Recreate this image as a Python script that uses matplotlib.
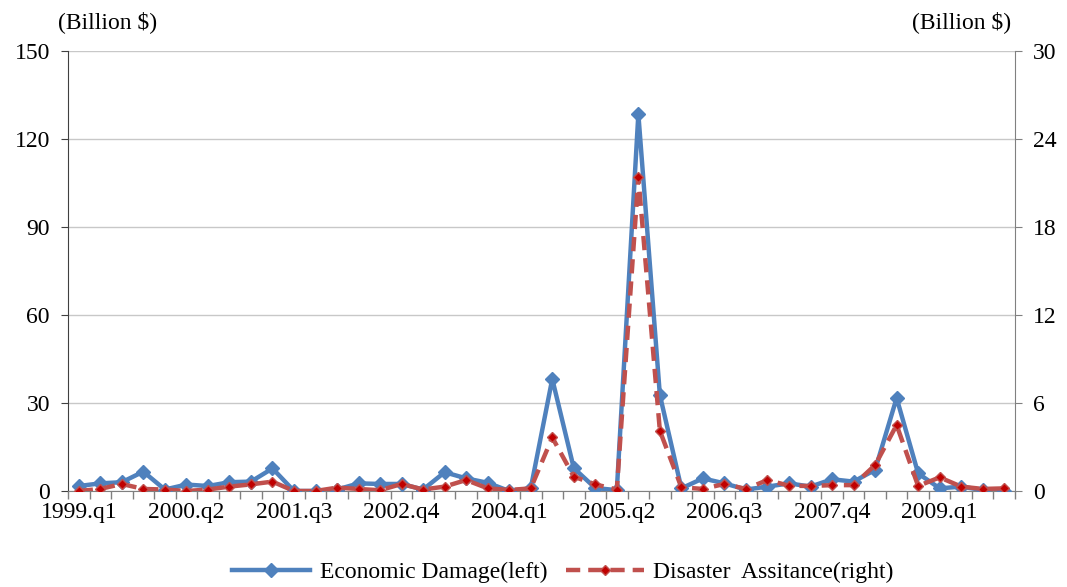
import matplotlib.pyplot as plt
import numpy as np

plt.rcParams['font.family'] = ['Liberation Serif', 'DejaVu Serif']

# quarters 1999.q1 .. 2009.q4
quarters = [f"{y}.q{q}" for y in range(1999, 2010) for q in range(1, 5)]
tick_labels = ["1999.q1", "2000.q2", "2001.q3", "2002.q4", "2004.q1",
               "2005.q2", "2006.q3", "2007.q4", "2009.q1"]

# Economic damage, billion $ (left axis)
damage = [1.7, 2.6, 3.0, 6.6, 0.5, 2.2, 1.7, 3.0, 3.2, 7.7,
          0.0, 0.0, 0.5, 2.6, 2.4, 2.4, 0.5, 6.4, 4.3, 2.8,
          0.0, 0.9, 38.2, 7.8, 1.0, 0.3, 128.5, 32.7, 0.9, 4.3,
          2.6, 0.5, 1.5, 2.6, 1.5, 4.0, 3.2, 7.2, 31.7, 6.0,
          0.9, 1.5, 0.3, 0.0]

# Disaster assistance, billion $ (right axis)
assist = [0.0, 0.14, 0.48, 0.14, 0.1, 0.0, 0.1, 0.3, 0.45, 0.64,
          0.0, 0.0, 0.23, 0.14, 0.05, 0.48, 0.1, 0.3, 0.75, 0.18,
          0.07, 0.18, 3.65, 0.98, 0.45, 0.1, 21.4, 4.1, 0.25, 0.14,
          0.48, 0.14, 0.75, 0.36, 0.34, 0.4, 0.4, 1.77, 4.5, 0.34,
          0.93, 0.3, 0.14, 0.18]

blue = '#4F81BD'
red = '#C0504D'
fs = 17

fig = plt.figure(figsize=(10.67, 5.87), dpi=100)
ax = fig.add_axes([68 / 1067, 1 - 491 / 587, (1015 - 68) / 1067, (491 - 51) / 587])
ax2 = ax.twinx()

x = np.arange(len(quarters))
l1, = ax.plot(x, damage, color=blue, lw=3.2, marker='D', ms=7,
              mec=blue, mfc=blue, zorder=3, label='Economic Damage(left)')
l2, = ax2.plot(x, assist, color=red, lw=3.2, ls=(0, (3.2, 1.8)), marker='D', ms=5.5,
               mfc='#C00000', mec=red, zorder=4, label='Disaster  Assitance(right)')

ax.set_xlim(-0.5, len(quarters) - 0.5)
ax.set_ylim(0, 150)
ax.set_yticks(np.arange(0, 151, 30))
ax2.set_ylim(0, 30)
ax2.set_yticks(np.arange(0, 31, 6))

ax.set_xticks([quarters.index(t) for t in tick_labels])
ax.set_xticklabels(tick_labels)
ax.set_xticks(np.arange(-0.5, len(quarters), 1), minor=True)
ax.tick_params(axis='x', which='major', length=0, pad=8, labelsize=fs)
ax.tick_params(axis='x', which='minor', length=6, width=1, color='#808080', direction='out')
ax.tick_params(axis='y', length=5, color='#404040', labelsize=fs, pad=8)
ax2.tick_params(axis='y', length=5, color='#808080', labelsize=fs, pad=8)

ax.grid(axis='y', color='#C8C8C8', lw=1)
ax.set_axisbelow(True)
for a in (ax, ax2):
    a.spines['top'].set_visible(False)
ax2.spines['left'].set_visible(False)
ax2.spines['bottom'].set_visible(False)
ax.spines['right'].set_visible(False)
ax.spines['left'].set_color('#404040')
ax.spines['bottom'].set_color('#808080')
ax2.spines['right'].set_color('#808080')

fig.text(108 / 1067, 1 - 22 / 587, '(Billion $)', ha='center', va='center', fontsize=fs)
fig.text(962 / 1067, 1 - 22 / 587, '(Billion $)', ha='center', va='center', fontsize=fs)

fig.legend(handles=[l1, l2], loc='center', bbox_to_anchor=(563 / 1067, 1 - 572 / 587),
           ncol=2, frameon=False, fontsize=fs, handlelength=3.3, columnspacing=0.8,
           handletextpad=0.4)

fig.savefig('out.png', dpi=100)
